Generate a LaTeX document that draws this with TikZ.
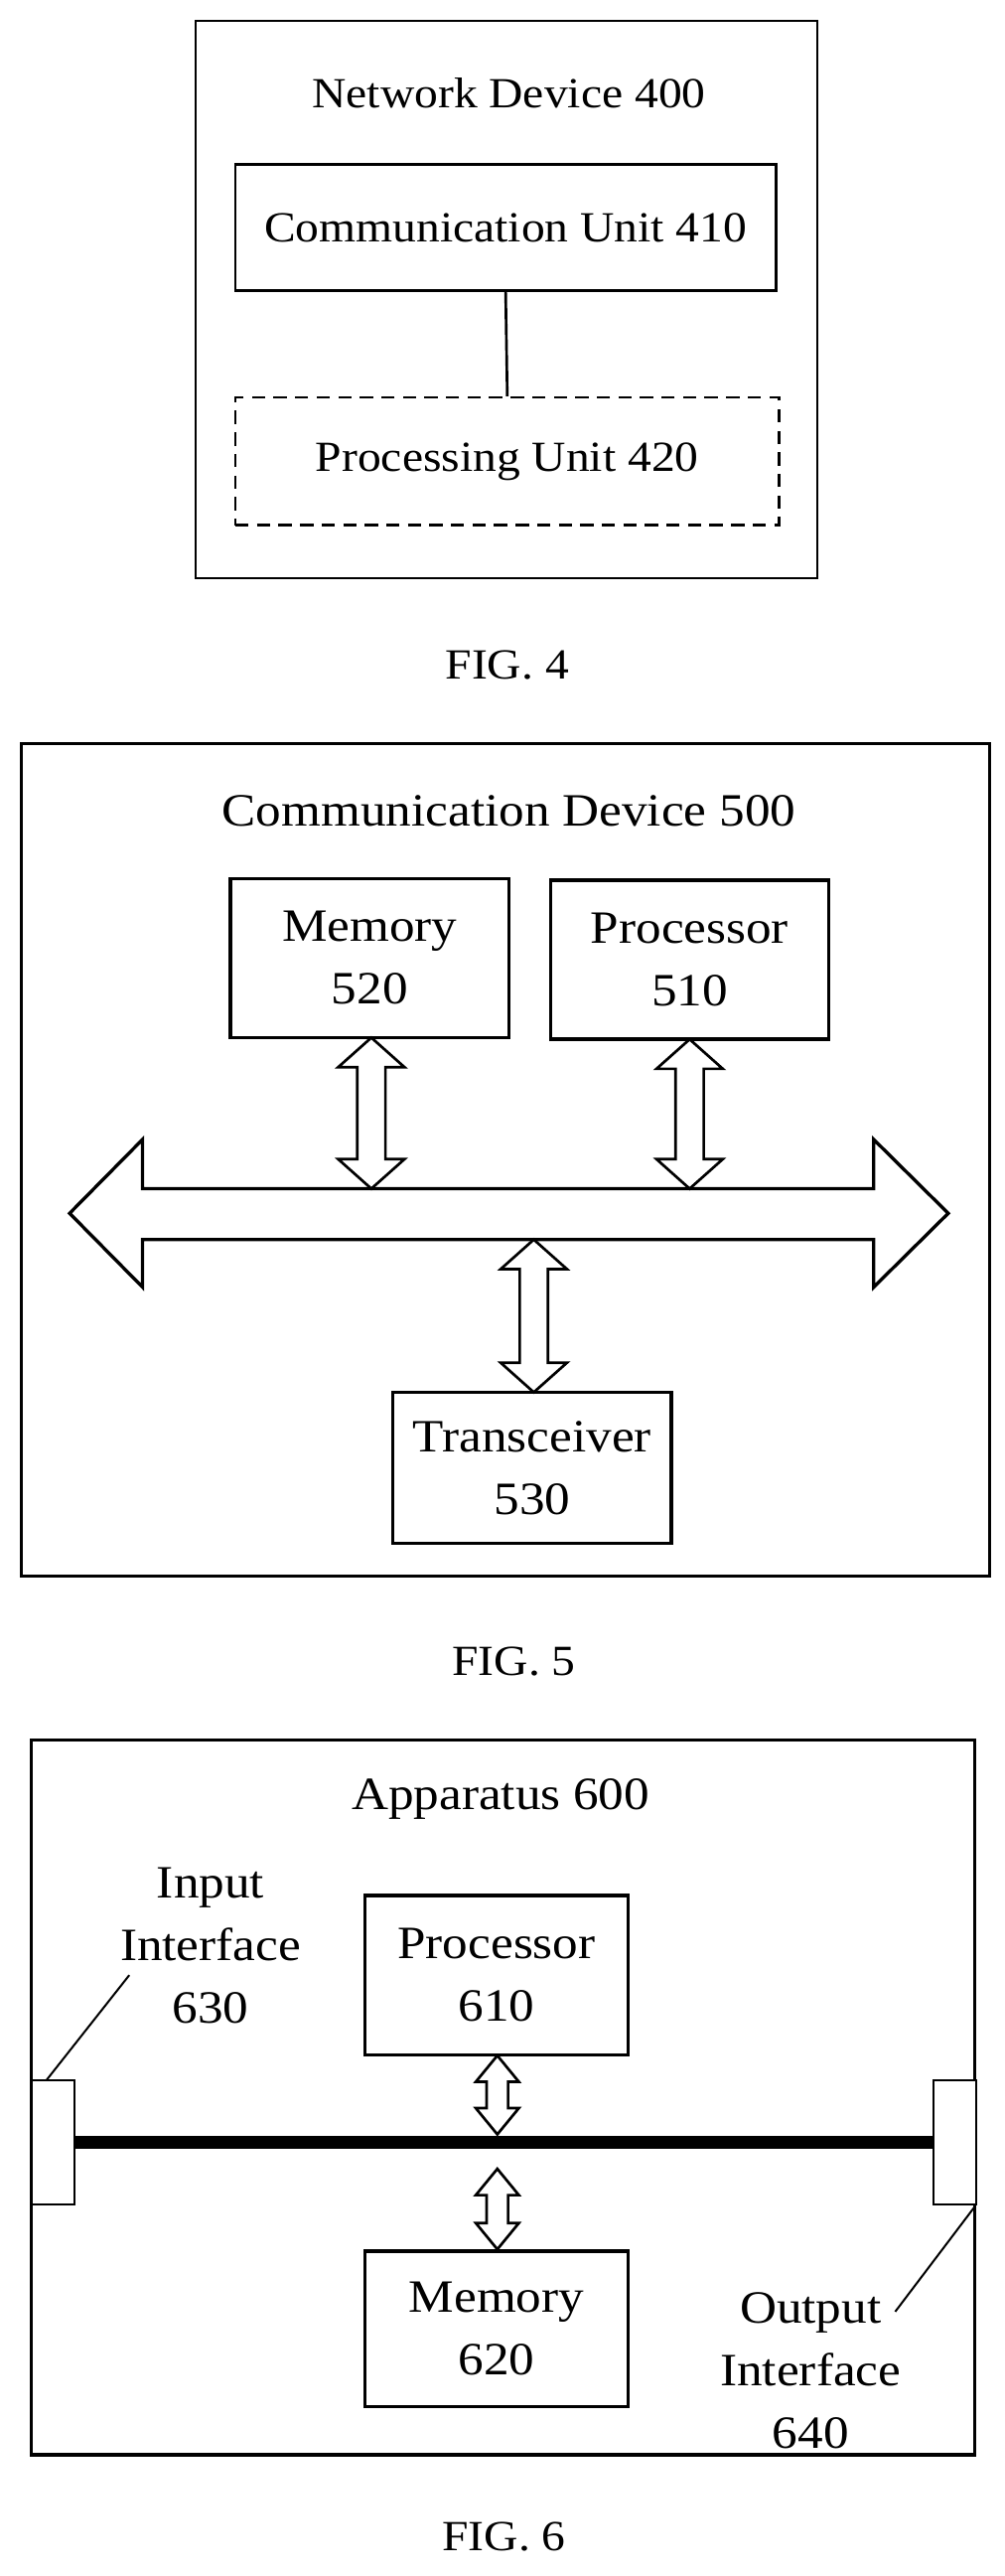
\documentclass[tikz,border=0pt]{standalone}
\usepackage{fontspec}
\setmainfont{Liberation Serif}[FakeStretch=1.1]
\begin{document}
\newcommand{\vdarr}[6]{% x, ytop, ybot, half shaft, half head, head length
  \draw[arr] (#1,#2) -- (#1+#5,#2+#6) -- (#1+#4,#2+#6) -- (#1+#4,#3-#6) -- (#1+#5,#3-#6) -- (#1,#3) -- (#1-#5,#3-#6) -- (#1-#4,#3-#6) -- (#1-#4,#2+#6) -- (#1-#5,#2+#6) -- cycle;}
\begin{tikzpicture}[x=1bp,y=-0.99bp,
  box/.style={draw,line width=1.6bp,inner sep=0pt},
  lbl/.style={font=\fontsize{26}{38}\selectfont,align=center,inner sep=0pt},
  lbb/.style={font=\fontsize{28}{38}\selectfont,align=center,inner sep=0pt},
  arr/.style={draw,line width=1.6bp,fill=white,line join=miter}]
\useasboundingbox (0,0) rectangle (606,1569);
% FIG 4
\node[box,minimum width=375bp,minimum height=336bp] (o4) at (305.5,182.5) {};
\node[lbl] (t4) at (307,57) {Network Device 400};
\node[box,minimum width=326bp,minimum height=76bp,lbl] (cu) at (305,138.5) {Communication Unit 410};
\node[box,dashed,dash pattern=on 8bp off 5bp,minimum width=328bp,minimum height=77bp,lbl] (pu) at (306,281) {Processing Unit 420};
\draw[line width=1.6bp] (cu.south) -- (pu.north);
\node[lbl] (f4) at (306,405) {FIG. 4};
% FIG 5
\node[box,line width=2bp,minimum width=584bp,minimum height=502bp] (o5) at (305,706.5) {};
\node[lbb] (t5) at (307,494) {Communication Device 500};
\node[box,line width=2bp,minimum width=168bp,minimum height=96bp,lbb] (mem5) at (223,583.5) {Memory\\520};
\node[box,line width=2bp,minimum width=168bp,minimum height=96bp,lbb] (pro5) at (416,584.5) {Processor\\510};
\node[box,line width=2bp,minimum width=168bp,minimum height=91bp,lbb] (tr5) at (321,894) {Transceiver\\530};
\draw[arr,line width=2bp] (42,739) -- (86,694) -- (86,724) -- (527,724) -- (527,694) -- (572,739) -- (527,784) -- (527,755) -- (86,755) -- (86,784) -- cycle;
\vdarr{224}{632}{724}{8.5}{20}{18}
\vdarr{416}{633}{724}{8.5}{20}{18}
\vdarr{322}{755}{848}{8.5}{20}{18}
\node[lbl] (f5) at (310,1012) {FIG. 5};
% FIG 6
\node[box,line width=2bp,minimum width=569bp,minimum height=431bp] (o6) at (303.5,1277.5) {};
\node[lbb] (t6) at (302,1096) {Apparatus 600};
\node[box,line width=2bp,minimum width=159bp,minimum height=96bp,lbb] (pro6) at (299.5,1203) {Processor\\610};
\node[box,line width=2bp,minimum width=159bp,minimum height=94bp,lbb] (mem6) at (299.5,1418.5) {Memory\\620};
\node[box,line width=1.2bp,minimum width=26bp,minimum height=75bp,fill=white] (in6) at (32,1305) {};
\node[box,line width=1.2bp,minimum width=26bp,minimum height=75bp,fill=white] (out6) at (576,1305) {};
\draw[line width=8bp] (in6.east) -- (out6.west);
\vdarr{300}{1252}{1300}{6.5}{13}{16}
\vdarr{300}{1321}{1370}{6.5}{13}{16}
\node[lbb] (il) at (127,1185) {Input\\Interface\\630};
\node[lbb] (ol) at (489,1444) {Output\\Interface\\640};
\draw[line width=1.2bp] (28,1267) -- (78,1203);
\draw[line width=1.2bp] (588,1344) -- (540,1408);
\node[lbl] (f6) at (304,1545) {FIG. 6};
\end{tikzpicture}
\end{document}
